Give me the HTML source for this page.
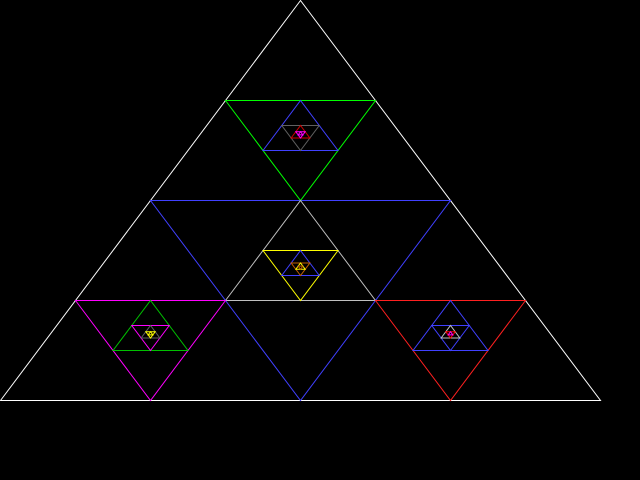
<!DOCTYPE html>
<html><head><style>
html,body{margin:0;padding:0;background:#000;}
svg{display:block;}
</style></head><body>
<svg id="s" width="640" height="480" viewBox="0 0 640 480" xmlns="http://www.w3.org/2000/svg">
<rect width="640" height="480" fill="#000"/>
</svg>
<script>
var s=document.getElementById('s');
function tri(a,b,c,col){
  var p=document.createElementNS('http://www.w3.org/2000/svg','polygon');
  p.setAttribute('points',[a,b,c].map(function(v){return (v[0]+0.5)+','+(v[1]+0.5)}).join(' '));
  p.setAttribute('fill','none');p.setAttribute('stroke',col);p.setAttribute('stroke-width','1');
  s.appendChild(p);
}
function mid(p,q){return [(p[0]+q[0])/2,(p[1]+q[1])/2];}
function nest(a,b,c,cols){
  for(var i=0;i<cols.length;i++){
    var na=mid(a,b),nb=mid(b,c),nc=mid(c,a);
    a=na;b=nb;c=nc;
    tri(a,b,c,cols[i]);
  }
}
tri([300,0],[0,400],[600,400],'#ffffff');
tri([150,200],[450,200],[300,400],'#4040ff');
// top
nest([300,0],[150,200],[450,200],['#00ff00','#4040ff','#606060','#d00000','#ff00ff','#ff00ff']);
// center
nest([150,200],[450,200],[300,400],['#c0c0c0','#ffff00','#4040ff','#c06000','#ffff00','#c06000']);
// left
nest([150,200],[0,400],[300,400],['#ff00ff','#00c000','#ff00ff','#606060','#ffff00','#ffff00']);
// right
nest([450,200],[300,400],[600,400],['#ff2020','#4040ff','#4040ff','#c0c0c0','#ff0000','#ff00ff']);
</script>
</body></html>
